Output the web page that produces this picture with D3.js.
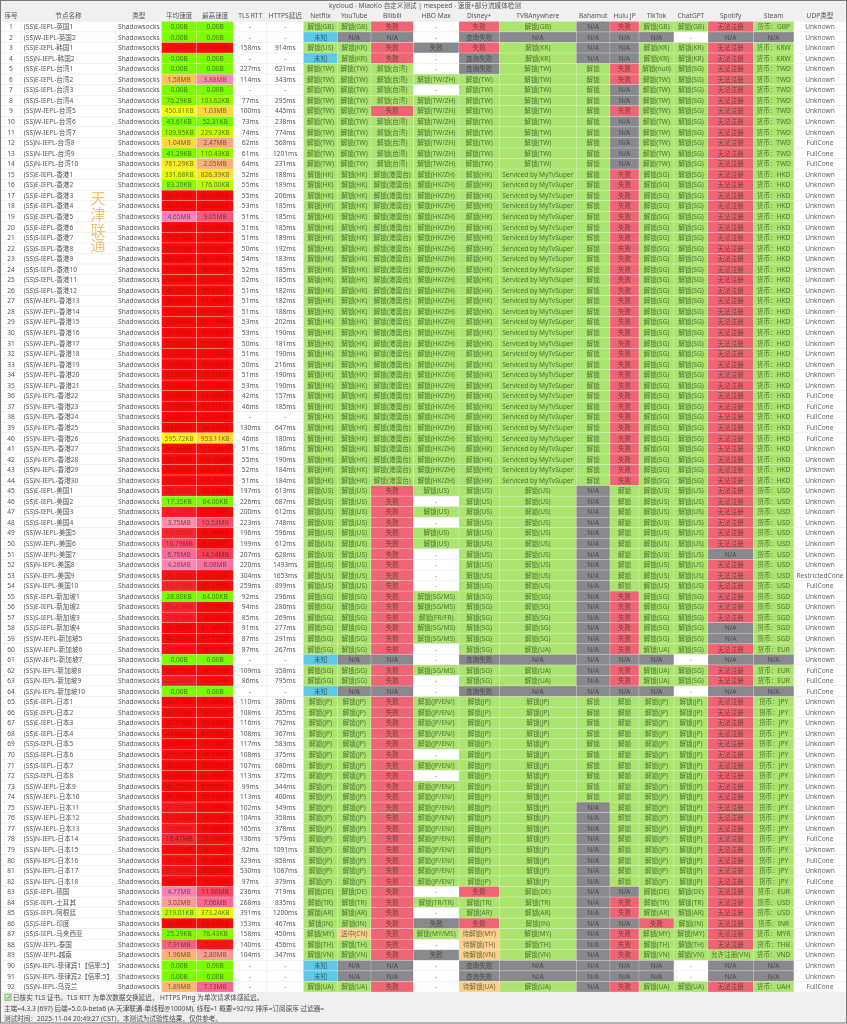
<!DOCTYPE html>
<html>
<head>
<meta charset="utf-8">
<title>MiaoKo</title>
<script src="https://cdn.jsdelivr.net/npm/d3@7"></script>
<style>
  html, body { margin: 0; padding: 0; background: #f0f0f0; }
  svg { display: block; filter: blur(0.3px); font-family: "Noto Sans", "Noto Sans CJK SC", sans-serif; }
</style>
</head>
<body>
<svg id="chart" width="847" height="1024"></svg>
<script>
const headers = ["序号","节点名称","类型","平均速度","最高速度","TLS RTT","HTTPS延迟","Netflix","YouTube","Bilibili","HBO Max","Disney+","TVBAnywhere","Bahamut","Hulu JP","TikTok","ChatGPT","Spotify","Steam","UDP类型"];

const nodeNames = ["(SS)E-IEPL-英国1","(SS)W-IEPL-英国2","(SS)E-IEPL-韩国1","(SS)N-IEPL-韩国2","(SS)E-IEPL-台湾1","(SS)E-IEPL-台湾2","(SS)S-IEPL-台湾3","(SS)S-IEPL-台湾4","(SS)W-IEPL-台湾5","(SS)W-IEPL-台湾6","(SS)W-IEPL-台湾7","(SS)N-IEPL-台湾8","(SS)N-IEPL-台湾9","(SS)N-IEPL-台湾10",
"(SS)E-IEPL-香港1","(SS)E-IEPL-香港2","(SS)E-IEPL-香港3","(SS)E-IEPL-香港4","(SS)E-IEPL-香港5","(SS)E-IEPL-香港6","(SS)S-IEPL-香港7","(SS)S-IEPL-香港8","(SS)S-IEPL-香港9","(SS)S-IEPL-香港10","(SS)S-IEPL-香港11","(SS)S-IEPL-香港12","(SS)W-IEPL-香港13","(SS)W-IEPL-香港14","(SS)W-IEPL-香港15","(SS)W-IEPL-香港16","(SS)W-IEPL-香港17","(SS)W-IEPL-香港18","(SS)W-IEPL-香港19","(SS)W-IEPL-香港20","(SS)W-IEPL-香港21","(SS)N-IEPL-香港22","(SS)N-IEPL-香港23","(SS)N-IEPL-香港24","(SS)N-IEPL-香港25","(SS)N-IEPL-香港26","(SS)N-IEPL-香港27","(SS)N-IEPL-香港28","(SS)N-IEPL-香港29","(SS)N-IEPL-香港30",
"(SS)E-IEPL-美国1","(SS)E-IEPL-美国2","(SS)S-IEPL-美国3","(SS)S-IEPL-美国4","(SS)W-IEPL-美国5","(SS)W-IEPL-美国6","(SS)W-IEPL-美国7","(SS)N-IEPL-美国8","(SS)N-IEPL-美国9","(SS)N-IEPL-美国10",
"(SS)E-IEPL-新加坡1","(SS)E-IEPL-新加坡2","(SS)S-IEPL-新加坡3","(SS)S-IEPL-新加坡4","(SS)W-IEPL-新加坡5","(SS)W-IEPL-新加坡6","(SS)W-IEPL-新加坡7","(SS)N-IEPL-新加坡8","(SS)N-IEPL-新加坡9","(SS)N-IEPL-新加坡10",
"(SS)E-IEPL-日本1","(SS)E-IEPL-日本2","(SS)E-IEPL-日本3","(SS)E-IEPL-日本4","(SS)S-IEPL-日本5","(SS)S-IEPL-日本6","(SS)S-IEPL-日本7","(SS)S-IEPL-日本8","(SS)W-IEPL-日本9","(SS)W-IEPL-日本10","(SS)W-IEPL-日本11","(SS)W-IEPL-日本12","(SS)W-IEPL-日本13","(SS)N-IEPL-日本14","(SS)N-IEPL-日本15","(SS)N-IEPL-日本16","(SS)N-IEPL-日本17","(SS)N-IEPL-日本18",
"(SS)E-IEPL-德国","(SS)E-IEPL-土耳其","(SS)S-IEPL-阿根廷","(SS)S-IEPL-印度","(SS)S-IEPL-马来西亚","(SS)W-IEPL-泰国","(SS)W-IEPL-越南","(SS)N-IEPL-菲律宾1【倍率:5】","(SS)N-IEPL-菲律宾2【倍率:5】","(SS)N-IEPL-乌克兰"];

const avgSpeed = "0.00B,0.00B,27.47MB,0.00B,0.00B,1.58MB,0.00B,76.29KB,450.81KB,43.61KB,109.95KB,1.04MB,41.29KB,761.29KB,331.68KB,83.20KB,53.31MB,53.77MB,4.65MB,52.68MB,76.87MB,54.58MB,54.72MB,51.89MB,49.08MB,46.75MB,38.66MB,42.25MB,52.91MB,37.35MB,54.16MB,50.03MB,64.00MB,33.60MB,70.40MB,37.64MB,53.50MB,40.08MB,49.08MB,595.72KB,94.24MB,85.30MB,76.80MB,75.92MB,25.30MB,17.35KB,21.22MB,3.75MB,19.60MB,10.79MB,6.76MB,4.26MB,26.14MB,19.81MB,28.80KB,20.41MB,21.83MB,57.35MB,44.83MB,25.96MB,0.00B,29.87MB,22.84MB,0.00B,43.31MB,38.39MB,42.77MB,44.88MB,39.59MB,28.51MB,36.95MB,46.92MB,45.52MB,39.35MB,23.77MB,27.54MB,22.98MB,18.47MB,29.29MB,27.72MB,25.14MB,30.64MB,4.77MB,3.02MB,219.01KB,32.30MB,25.29KB,7.91MB,1.96MB,0.00B,0.00B,1.89MB".split(",");
const maxSpeed = "0.00B,0.00B,47.48MB,0.00B,0.00B,3.88MB,0.00B,103.62KB,1.03MB,52.31KB,229.73KB,2.47MB,110.43KB,2.05MB,826.39KB,176.00KB,60.16MB,59.02MB,9.05MB,59.20MB,89.28MB,59.50MB,59.18MB,58.78MB,59.25MB,58.39MB,41.60MB,47.95MB,57.74MB,53.18MB,59.95MB,57.75MB,90.56MB,57.31MB,93.58MB,41.99MB,70.21MB,55.59MB,58.97MB,953.11KB,104.14MB,107.85MB,104.01MB,106.29MB,40.33MB,64.00KB,52.69MB,10.53MB,47.36MB,30.16MB,14.14MB,6.08MB,50.02MB,43.33MB,64.00KB,33.87MB,36.29MB,81.60MB,69.77MB,38.01MB,0.00B,37.12MB,28.73MB,0.00B,59.50MB,56.02MB,68.49MB,63.16MB,58.79MB,44.43MB,53.89MB,64.76MB,63.89MB,56.53MB,32.20MB,34.91MB,30.36MB,28.08MB,36.71MB,36.56MB,35.83MB,36.58MB,11.68MB,7.06MB,373.24KB,62.33MB,78.43KB,25.05MB,2.80MB,0.00B,0.00B,7.13MB".split(",");
const tlsRtt = "-,-,158ms,-,227ms,114ms,-,77ms,100ms,73ms,74ms,62ms,61ms,64ms,52ms,55ms,55ms,53ms,51ms,51ms,51ms,50ms,54ms,52ms,52ms,51ms,51ms,51ms,53ms,53ms,50ms,51ms,50ms,51ms,53ms,42ms,46ms,-,130ms,46ms,51ms,55ms,52ms,51ms,197ms,226ms,200ms,223ms,196ms,199ms,207ms,220ms,304ms,259ms,92ms,94ms,85ms,91ms,87ms,87ms,-,109ms,86ms,-,110ms,108ms,116ms,108ms,117ms,108ms,107ms,113ms,99ms,113ms,102ms,104ms,105ms,136ms,92ms,329ms,530ms,97ms,236ms,268ms,391ms,153ms,158ms,140ms,104ms,-,-,-".split(",");
const httpsDelay = "-,-,914ms,-,621ms,343ms,-,295ms,445ms,238ms,774ms,568ms,1201ms,231ms,188ms,189ms,206ms,185ms,185ms,185ms,189ms,192ms,183ms,185ms,185ms,182ms,182ms,188ms,202ms,190ms,181ms,190ms,216ms,190ms,190ms,157ms,185ms,-,647ms,180ms,186ms,190ms,184ms,184ms,613ms,687ms,612ms,748ms,596ms,612ms,628ms,1493ms,1653ms,899ms,296ms,286ms,269ms,277ms,291ms,267ms,-,358ms,795ms,-,380ms,355ms,792ms,367ms,583ms,375ms,680ms,372ms,344ms,400ms,349ms,358ms,378ms,979ms,1091ms,858ms,1067ms,379ms,719ms,835ms,1200ms,467ms,450ms,456ms,347ms,-,-,-".split(",");

const netflix = "GB,未知,US,未知,TW,TW,TW,TW,TW,TW,TW,TW,TW,TW,HK,HK,HK,HK,HK,HK,HK,HK,HK,HK,HK,HK,HK,HK,HK,HK,HK,HK,HK,HK,HK,HK,HK,HK,HK,HK,HK,HK,HK,HK,US,US,US,US,US,US,US,US,US,US,SG,SG,SG,SG,SG,SG,未知,SG,SG,未知,JP,JP,JP,JP,JP,JP,JP,JP,JP,JP,JP,JP,JP,JP,JP,JP,JP,JP,DE,TR,AR,IN,MY,TH,VN,未知,未知,UA".split(",");
const youtube = "GB,N/A,KR,KR,TW,TW,TW,TW,TW,TW,TW,TW,TW,TW,HK,HK,HK,HK,HK,HK,HK,HK,HK,HK,HK,HK,HK,HK,HK,HK,HK,HK,HK,HK,HK,HK,HK,HK,HK,HK,HK,HK,HK,HK,US,US,US,US,US,US,US,US,US,US,SG,SG,SG,SG,SG,SG,N/A,SG,SG,N/A,JP,JP,JP,JP,JP,JP,JP,JP,JP,JP,JP,JP,JP,JP,JP,JP,JP,JP,DE,TR,AR,IN,送中(CN),TH,VN,N/A,N/A,UA".split(",");
const bilibili = "失败,N/A,失败,失败,台湾,台湾,台湾,台湾,失败,台湾,台湾,台湾,台湾,台湾,港澳台,港澳台,港澳台,港澳台,港澳台,港澳台,港澳台,港澳台,港澳台,港澳台,港澳台,港澳台,港澳台,港澳台,港澳台,港澳台,港澳台,港澳台,港澳台,港澳台,港澳台,港澳台,港澳台,港澳台,港澳台,港澳台,港澳台,港澳台,港澳台,港澳台,失败,失败,失败,失败,失败,失败,失败,失败,失败,失败,失败,失败,失败,失败,失败,失败,N/A,失败,失败,N/A,失败,失败,失败,失败,失败,失败,失败,失败,失败,失败,失败,失败,失败,失败,失败,失败,失败,失败,失败,失败,失败,失败,失败,失败,失败,N/A,N/A,失败".split(",");
const hboMax = "-,-,失败,-,-,TW/ZH,-,TW/ZH,TW/ZH,TW/ZH,TW/ZH,TW/ZH,TW/ZH,TW/ZH,HK/ZH,HK/ZH,HK/ZH,HK/ZH,HK/ZH,HK/ZH,HK/ZH,HK/ZH,HK/ZH,HK/ZH,HK/ZH,HK/ZH,HK/ZH,HK/ZH,HK/ZH,HK/ZH,HK/ZH,HK/ZH,HK/ZH,HK/ZH,HK/ZH,HK/ZH,HK/ZH,HK/ZH,HK/ZH,HK/ZH,HK/ZH,HK/ZH,HK/ZH,HK/ZH,US,-,US,-,US,US,-,-,-,-,SG/MS,SG/MS,FR/FR,SG/MS,SG/MS,-,-,SG/MS,-,-,JP/EN/,JP/EN/,JP/EN/,JP/EN/,JP/EN/,-,JP/EN/,-,JP/EN/,JP/EN/,JP/EN/,JP/EN/,JP/EN/,JP/EN/,JP/EN/,JP/EN/,JP/EN/,JP/EN/,-,TR/TR,-,失败,MY/MS,-,失败,-,-,-".split(",");
const disney = "失败,查询失败,失败,查询失败,查询失败,TW,TW,TW,TW,TW,TW,TW,TW,TW,HK,HK,HK,HK,HK,HK,HK,HK,HK,HK,HK,HK,HK,HK,HK,HK,HK,HK,HK,HK,HK,HK,HK,HK,HK,HK,HK,HK,HK,HK,US,US,US,US,US,US,US,US,US,US,SG,SG,SG,SG,SG,SG,查询失败,SG,SG,查询失败,JP,JP,JP,JP,JP,JP,JP,JP,JP,JP,JP,JP,JP,JP,JP,JP,JP,JP,失败,TR,AR,失败,待解锁(MY),待解锁(TH),待解锁(VN),查询失败,查询失败,待解锁(UA)".split(",");
const tvb = "GB,N/A,KR,KR,TW,TW,TW,TW,TW,TW,TW,TW,TW,TW,Super,Super,Super,Super,Super,Super,Super,Super,Super,Super,Super,Super,Super,Super,Super,Super,Super,Super,Super,Super,Super,Super,Super,Super,Super,Super,Super,Super,Super,Super,US,US,US,US,US,US,US,US,US,US,SG,SG,SG,SG,SG,UA,N/A,UA,UA,N/A,JP,JP,JP,JP,JP,JP,JP,JP,JP,JP,JP,JP,JP,JP,JP,JP,JP,JP,DE,TR,AR,IN,MY,TH,VN,N/A,N/A,UA".split(",").map(d => d === "Super" ? "Serviced by MyTvSuper" : d);
const bahamut = "N/A,N/A,N/A,N/A,解锁,解锁,解锁,解锁,解锁,解锁,解锁,解锁,解锁,解锁,解锁,解锁,解锁,解锁,解锁,解锁,解锁,解锁,解锁,解锁,解锁,解锁,解锁,解锁,解锁,解锁,解锁,解锁,解锁,解锁,解锁,解锁,解锁,解锁,解锁,解锁,解锁,解锁,解锁,解锁,N/A,N/A,N/A,N/A,N/A,N/A,N/A,N/A,N/A,N/A,N/A,N/A,N/A,N/A,N/A,N/A,N/A,N/A,N/A,N/A,解锁,解锁,解锁,解锁,解锁,解锁,解锁,解锁,解锁,解锁,N/A,N/A,N/A,N/A,N/A,N/A,N/A,N/A,N/A,N/A,N/A,N/A,N/A,N/A,N/A,N/A,N/A,N/A".split(",");
const huluJp = "失败,N/A,N/A,N/A,失败,失败,N/A,N/A,失败,N/A,N/A,N/A,N/A,N/A,失败,失败,失败,失败,失败,失败,失败,失败,失败,失败,失败,失败,失败,失败,失败,失败,失败,失败,失败,失败,失败,失败,失败,失败,失败,失败,失败,失败,失败,失败,解锁,解锁,解锁,解锁,解锁,解锁,解锁,解锁,解锁,解锁,失败,失败,失败,失败,失败,失败,N/A,失败,失败,N/A,解锁,解锁,解锁,解锁,解锁,解锁,解锁,解锁,解锁,解锁,解锁,解锁,解锁,解锁,解锁,解锁,解锁,解锁,N/A,失败,失败,N/A,失败,失败,失败,N/A,N/A,失败".split(",");
const tiktok = "GB,N/A,KR,KR,null,TW,TW,TW,TW,TW,TW,TW,TW,TW,SG,SG,SG,SG,SG,SG,SG,SG,SG,SG,SG,SG,SG,SG,SG,SG,SG,SG,SG,SG,SG,SG,SG,SG,SG,SG,SG,SG,SG,SG,US,US,US,US,US,US,US,US,US,US,SG,SG,SG,SG,SG,UA,N/A,UA,UA,N/A,JP,JP,JP,JP,JP,JP,JP,JP,JP,JP,JP,JP,JP,JP,JP,JP,JP,JP,DE,TR,AR,失败,MY,TH,VN,N/A,N/A,UA".split(",");
const chatgpt = "GB,-,KR,KR,SG,SG,SG,SG,SG,SG,SG,SG,SG,SG,SG,SG,SG,SG,SG,SG,SG,SG,SG,SG,SG,SG,SG,SG,SG,SG,SG,SG,SG,SG,SG,SG,SG,SG,SG,SG,SG,SG,SG,SG,US,US,US,US,US,US,US,US,US,US,SG,SG,SG,SG,SG,SG,-,SG,SG,-,JP,JP,JP,JP,JP,JP,JP,JP,JP,JP,JP,JP,JP,JP,JP,JP,JP,JP,DE,TR,AR,IN,MY,TH,VN,-,-,UA".split(",");
const spotify = "无法注册,N/A,无法注册,无法注册,无法注册,无法注册,无法注册,无法注册,无法注册,无法注册,无法注册,无法注册,无法注册,无法注册,无法注册,无法注册,无法注册,无法注册,无法注册,无法注册,无法注册,无法注册,无法注册,无法注册,无法注册,无法注册,无法注册,无法注册,无法注册,无法注册,无法注册,无法注册,无法注册,无法注册,无法注册,无法注册,无法注册,无法注册,无法注册,无法注册,无法注册,无法注册,无法注册,无法注册,无法注册,无法注册,无法注册,无法注册,无法注册,无法注册,N/A,无法注册,无法注册,无法注册,无法注册,无法注册,无法注册,N/A,N/A,无法注册,N/A,无法注册,无法注册,N/A,无法注册,无法注册,无法注册,无法注册,无法注册,无法注册,无法注册,无法注册,无法注册,无法注册,无法注册,无法注册,无法注册,无法注册,无法注册,无法注册,无法注册,无法注册,无法注册,无法注册,无法注册,无法注册,无法注册,无法注册,允许注册(VN),N/A,N/A,无法注册".split(",");
const steam = "GBP,N/A,KRW,KRW,TWD,TWD,TWD,TWD,TWD,TWD,TWD,TWD,TWD,TWD,HKD,HKD,HKD,HKD,HKD,HKD,HKD,HKD,HKD,HKD,HKD,HKD,HKD,HKD,HKD,HKD,HKD,HKD,HKD,HKD,HKD,HKD,HKD,HKD,HKD,HKD,HKD,HKD,HKD,HKD,USD,USD,USD,USD,USD,USD,USD,USD,USD,USD,SGD,SGD,SGD,SGD,SGD,EUR,N/A,EUR,EUR,N/A,JPY,JPY,JPY,JPY,JPY,JPY,JPY,JPY,JPY,JPY,JPY,JPY,JPY,JPY,JPY,JPY,JPY,JPY,EUR,USD,USD,INR,MYR,THB,VND,N/A,N/A,UAH".split(",");
const udpType = "U,U,U,U,U,U,U,U,U,U,U,F,F,F,U,U,U,U,U,U,U,U,U,U,U,U,U,U,U,U,U,U,U,U,U,F,F,F,F,F,U,U,U,U,U,U,U,U,U,U,U,U,R,F,U,U,U,U,U,U,U,F,F,F,U,U,U,U,U,U,U,U,U,U,U,U,U,F,U,F,U,F,U,U,U,U,U,U,U,U,U,F".split(",");

const titleText = "kycloud - MiaoKo 自定义测试 | mespeed - 速度+部分流媒体检测";
const footerLines = [
  "已核实 TLS 证书。TLS RTT 为单次数据交换延迟， HTTPS Ping 为单次请求体感延迟。",
  "主端=4.3.3 (697) 后端=5.0.0-beta6 (A-天津联通-单线程@1000M), 线程=1 概要=92/92 排序=订阅原序 过滤器=",
  "测试时间：2025-11-04 20:49:27 (CST)，本测试为试验性结果，仅供参考。"
];
const watermark = ["天","津","联","通"];

// layout
const W = 847, H = 1024;
const colEdges = [1,21,116,161.7,196.7,233.6,267,303.5,337.5,371,413.5,459,499.3,576.3,610,639,674,708,753.3,794,846];
const fontSize = 6.6;
const x = d3.scaleOrdinal(headers, colEdges);
const xEnd = d3.scaleOrdinal(headers, colEdges.slice(1));
const y = d3.scaleBand().domain(d3.range(nodeNames.length)).range([21.4, 992]);

const colors = {
  ok: "#abe46f", fail: "#ef6575", gray: "#88888e", blue: "#5ec8e6",
  wait: "#fcd08c", plain: "#ffffff", panel: "#f0f0f0", grid: "#ececec", edge: "#7a7a7a"
};

function toBytes(s) {
  const m = s.match(/([\d.]+)(MB|KB|B)/);
  const unit = { B: 1, KB: 1024, MB: 1048576 }[m[2]];
  return +m[1] * unit;
}

const speedColor = d3.scaleLog()
  .domain([1, 64 * 1024, 512 * 1024, 4.5 * 1048576, 30 * 1048576])
  .range(["#7cfc00", "#7cfc00", "#ffff00", "#fb85bc", "#fb0a0a"])
  .clamp(true);

function wrapUnlock(v) {
  if (/^(-|N\/A|失败|查询失败|未知|解锁)$/.test(v) || /[(]/.test(v) || /^(无法注册)$/.test(v)) return v;
  return "解锁(" + v + ")";
}

function mediaFill(v, col) {
  if (v === "-") return colors.plain;
  if (v === "N/A" || v === "查询失败") return colors.gray;
  if (v === "失败") return col === "HBO Max" ? colors.gray : colors.fail;
  if (v === "无法注册") return colors.fail;
  if (v === "未知") return colors.blue;
  if (v.startsWith("待解锁") || v.startsWith("送中")) return colors.wait;
  return colors.ok;
}

const udpNames = { U: "Unknown", F: "FullCone", R: "RestrictedCone" };

// flat list of table cells, one per row and column
const cells = [];
function addCol(col, values, fillFn, textFn, opts) {
  values.forEach((v, i) => {
    const fill = fillFn(v);
    cells.push(Object.assign({ col, row: i, fill, label: textFn(v) }, opts));
  });
}
const same = d => d;
const white = () => colors.plain;
const media = col => v => mediaFill(wrapUnlock(v), col);

addCol("序号", nodeNames.map((d, i) => String(i + 1)), white, same, { ink: "#555" });
addCol("节点名称", nodeNames, white, same, { ink: "#555", left: true });
addCol("类型", nodeNames.map(() => "Shadowsocks"), white, same, { ink: "#555" });
addCol("平均速度", avgSpeed, v => speedColor(Math.max(toBytes(v), 1)), same);
addCol("最高速度", maxSpeed, v => speedColor(Math.max(toBytes(v), 1)), same);
addCol("TLS RTT", tlsRtt, white, same, { ink: "#555" });
addCol("HTTPS延迟", httpsDelay, white, same, { ink: "#555" });
addCol("Netflix", netflix, media("Netflix"), wrapUnlock);
addCol("YouTube", youtube, media("YouTube"), wrapUnlock);
addCol("Bilibili", bilibili, media("Bilibili"), wrapUnlock);
addCol("HBO Max", hboMax, media("HBO Max"), wrapUnlock);
addCol("Disney+", disney, media("Disney+"), wrapUnlock);
addCol("TVBAnywhere", tvb, v => v.startsWith("Serviced") ? colors.ok : media("TVBAnywhere")(v), v => v.startsWith("Serviced") ? v : wrapUnlock(v));
addCol("Bahamut", bahamut, media("Bahamut"), same);
addCol("Hulu JP", huluJp, media("Hulu JP"), same);
addCol("TikTok", tiktok, media("TikTok"), wrapUnlock);
addCol("ChatGPT", chatgpt, media("ChatGPT"), wrapUnlock);
addCol("Spotify", spotify, v => v.startsWith("允许") ? colors.ok : media("Spotify")(v), same);
addCol("Steam", steam, v => v === "N/A" ? colors.gray : colors.ok, v => v === "N/A" ? v : "货币：" + v);
addCol("UDP类型", udpType, white, v => udpNames[v], { ink: "#666" });

function textInk(d) {
  if (d.ink) return d.ink;
  const nearRed = d3.rgb(d.fill).g < 40;
  return d3.interpolateRgb(d.fill, "#1c2a10")(nearRed ? 0.3 : 0.62);
}

const svg = d3.select("#chart");

svg.append("rect").attr("width", W).attr("height", H).attr("fill", colors.panel);

// title and header
svg.append("text").attr("x", 425).attr("y", 8).attr("text-anchor", "middle")
  .attr("font-size", fontSize).attr("fill", "#555").text(titleText);

svg.append("g").selectAll("text").data(headers).join("text")
  .attr("x", d => (x(d) + xEnd(d)) / 2)
  .attr("y", 18.4)
  .attr("text-anchor", "middle")
  .attr("font-size", fontSize)
  .attr("fill", "#555")
  .text(d => d);

// cell backgrounds
svg.append("g").selectAll("rect").data(cells).join("rect")
  .attr("x", d => x(d.col))
  .attr("y", d => y(d.row))
  .attr("width", d => xEnd(d.col) - x(d.col))
  .attr("height", y.bandwidth())
  .attr("fill", d => d.fill)
  .attr("stroke", d => d.fill === colors.plain ? colors.grid : "#ffffff")
  .attr("stroke-opacity", d => d.fill === colors.plain ? 1 : 0.4)
  .attr("stroke-width", 0.5);

// cell labels
svg.append("g").selectAll("text").data(cells).join("text")
  .attr("x", d => d.left ? x(d.col) + 2.8 : (x(d.col) + xEnd(d.col)) / 2)
  .attr("y", d => y(d.row) + y.bandwidth() / 2)
  .attr("dy", "0.36em")
  .attr("text-anchor", d => d.left ? "start" : "middle")
  .attr("font-size", fontSize)
  .attr("fill", textInk)
  .text(d => d.label);

// vertical watermark
svg.append("g").selectAll("text").data(watermark).join("text")
  .attr("x", 98)
  .attr("y", (d, i) => y(14) + 35 + i * 15.7)
  .attr("text-anchor", "middle")
  .attr("font-size", 15)
  .attr("fill", "#efc27e")
  .text(d => d);

// footer
svg.append("rect").attr("x", 5).attr("y", 994.2).attr("width", 6).attr("height", 6)
  .attr("fill", "#dff0d0").attr("stroke", "#5fae3c").attr("stroke-width", 0.8);
svg.append("path").attr("d", "M6.4,997.2L7.8,998.8L10,995.6")
  .attr("fill", "none").attr("stroke", "#3f9a24").attr("stroke-width", 0.9);

svg.append("g").selectAll("text").data(footerLines).join("text")
  .attr("x", (d, i) => i === 0 ? 13 : 4)
  .attr("y", (d, i) => 999.8 + i * 10.7)
  .attr("font-size", fontSize)
  .attr("fill", "#4a4a4a")
  .text(d => d);

// window frame
svg.append("rect").attr("x", 0.5).attr("y", 0.5).attr("width", W - 1).attr("height", 1022.5)
  .attr("fill", "none").attr("stroke", colors.edge).attr("stroke-width", 1);
</script>
</body>
</html>
